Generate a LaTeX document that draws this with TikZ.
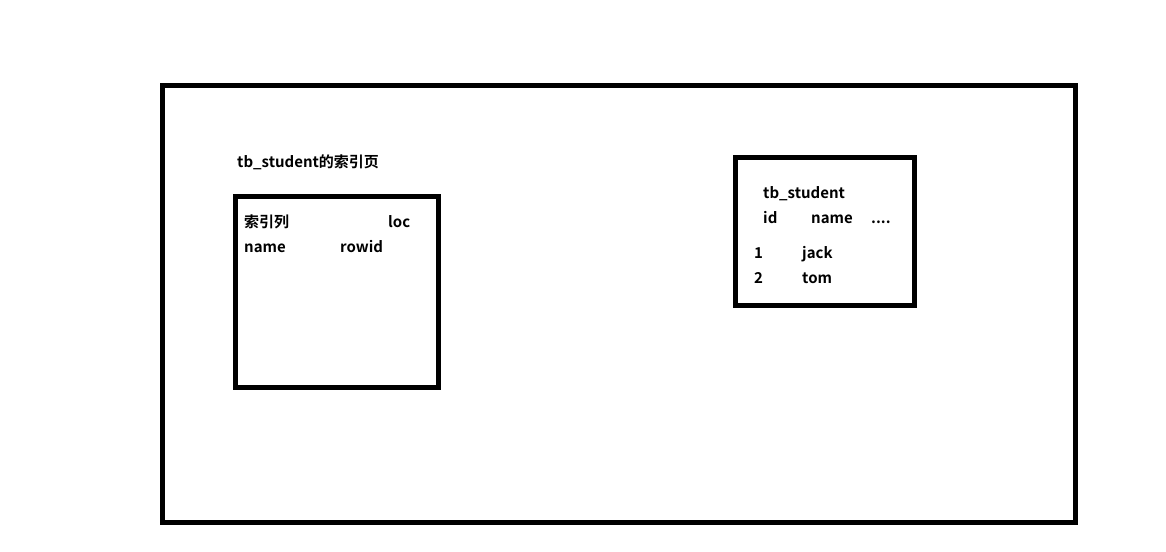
\documentclass[tikz,border=0pt]{standalone}
\usepackage{fontspec}
\setmainfont{Noto Sans CJK SC}[BoldFont={* Bold}]
\tikzset{
  frame/.style={draw=black, line width=5pt, fill=none, inner sep=0pt, outer sep=0pt, anchor=north west},
  lbl/.style={anchor=base west, inner sep=0pt, font=\fontsize{15}{18}\selectfont\bfseries},
}
\begin{document}
\begin{tikzpicture}[x=1pt,y=-1pt]
\useasboundingbox[fill=white] (0,0) rectangle (1166,551);
% outer frame
\node[frame, minimum width=912.5pt, minimum height=437pt] (outerbox) at (162.5,85.5) {};
% index page box
\node[frame, minimum width=203pt, minimum height=191pt] (idxbox) at (235,196.5) {};
% table box
\node[frame, minimum width=179pt, minimum height=148pt] (tblbox) at (735,157.5) {};
% texts left
\node[lbl] (title) at (237,167.5) {tb\_student的索引页};
\node[lbl] (colA) at (244,227.5) {索引列};
\node[lbl] (colB) at (388,227.5) {loc};
\node[lbl] (rowA) at (244,252.5) {name};
\node[lbl] (rowB) at (340,252.5) {rowid};
% texts right
\node[lbl] (tname) at (763,198.5) {tb\_student};
\node[lbl] (hid) at (763,223.5) {id};
\node[lbl] (hname) at (811,223.5) {name};
\node[lbl] (hdots) at (871,223.5) {....};
\node[lbl] (r1id) at (754,258) {1};
\node[lbl] (r1name) at (802,258) {jack};
\node[lbl] (r2id) at (754,283) {2};
\node[lbl] (r2name) at (802,283) {tom};
\end{tikzpicture}
\end{document}
